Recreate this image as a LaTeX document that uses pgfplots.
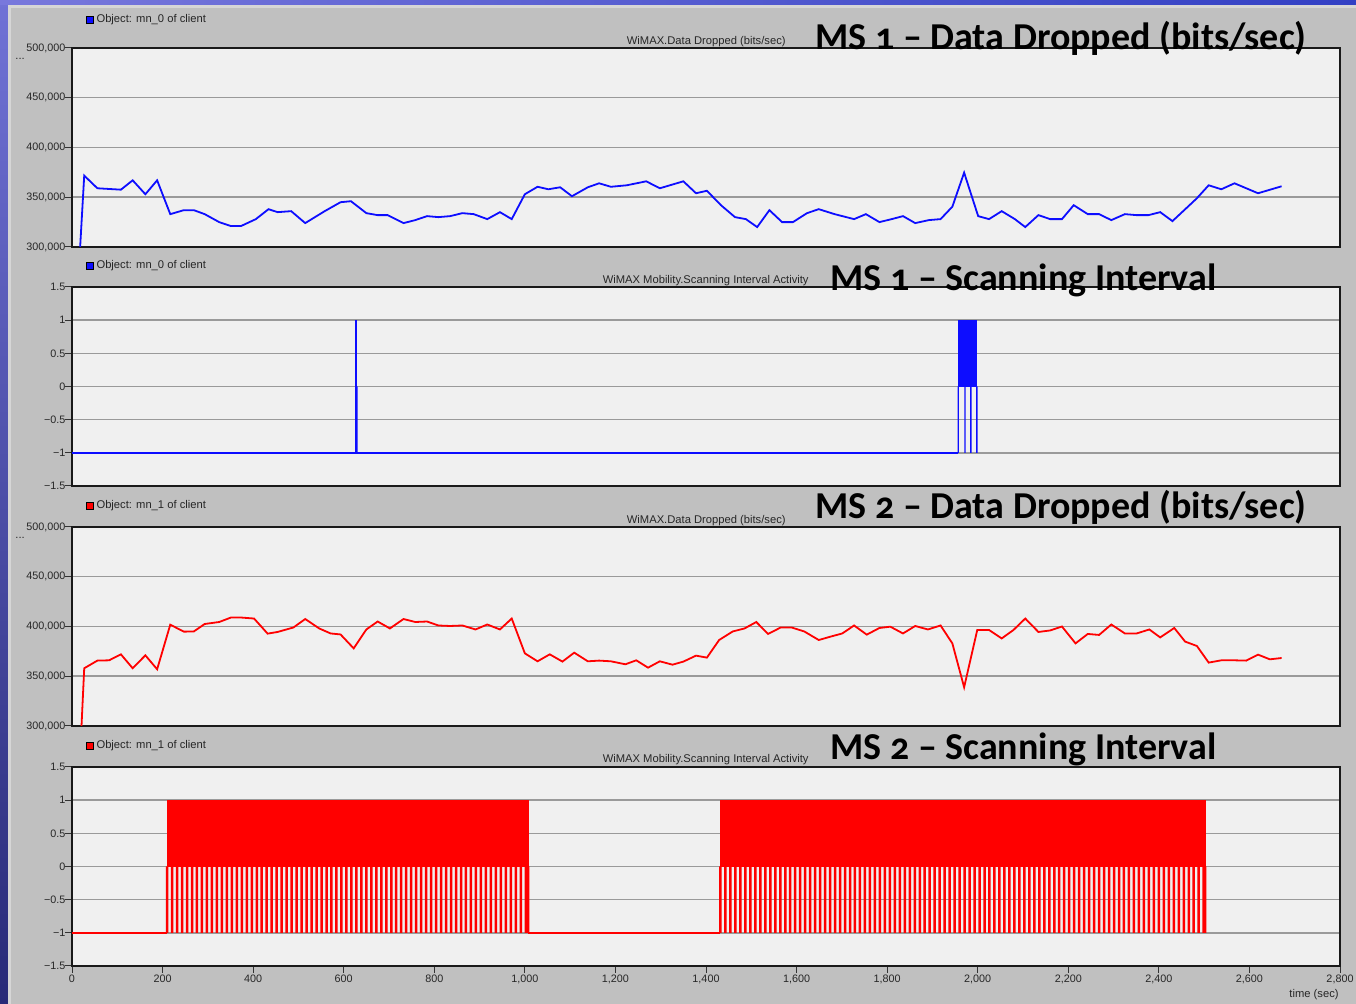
\documentclass[border=0pt]{standalone}
\usepackage{fontspec}
\setmainfont{Liberation Sans}
\newfontfamily\titlefont{Carlito}[Numbers=OldStyle]
\usepackage{pgfplots}
\pgfplotsset{compat=1.18}
\definecolor{bggray}{HTML}{C0C0C0}
\definecolor{plotbg}{HTML}{F0F0F0}
\definecolor{gridgray}{HTML}{9A9A9A}
\definecolor{dblue}{HTML}{0D0DFF}
\definecolor{dred}{HTML}{FF0000}
\definecolor{stripA}{RGB}{112,114,214}
\definecolor{stripB}{RGB}{40,42,120}
\definecolor{stripC}{RGB}{120,120,220}
\definecolor{stripD}{RGB}{50,64,196}
\definecolor{lightline}{RGB}{214,214,214}
\newcommand{\ticksz}{\fontsize{5.4}{6}\selectfont}
\newcommand{\smsz}{\fontsize{5.6}{6.5}\selectfont}
\newcommand{\bigt}{\titlefont\bfseries\fontsize{19}{21}\selectfont}
\pgfplotsset{
 panel/.style={
  scale only axis, width=634pt, height=99.5pt, anchor=south west,
  xmin=0, xmax=2800,
  axis background/.style={fill=plotbg},
  axis line style={draw=black!90, line width=0.55pt},
  ymajorgrids, major grid style={draw=gridgray, line width=0.75pt},
  tick align=outside, ytick pos=left, xtick pos=bottom,
  major tick length=3.5pt,
  tick style={draw=black!80, line width=0.5pt},
  tick label style={font=\ticksz, text=black!85, inner sep=0pt},
  yticklabel style={xshift=0.4pt},
  xticklabel style={yshift=-0.8pt},
  scaled ticks=false,
  legend cell align=left,
  legend style={draw=none, fill=none, inner sep=0pt, anchor=west,
    font=\smsz, text=black!85, nodes={inner sep=1.3pt}},
 },
 datapanel/.style={
  ymin=300000, ymax=500000,
  ytick={300000,350000,400000,450000,500000},
  yticklabels={{300,000},{350,000},{400,000},{450,000},{500,000}},
 },
 scanpanel/.style={
  ymin=-1.5, ymax=1.5,
  ytick={-1.5,-1,-0.5,0,0.5,1,1.5},
  yticklabels={−1.5,−1,−0.5,0,0.5,1,1.5},
 },
 bluesq/.style={legend image code/.code={\filldraw[fill=dblue,draw=black,line width=0.3pt] (0pt,-1.7pt) rectangle (3.5pt,1.8pt);}},
 redsq/.style={legend image code/.code={\filldraw[fill=dred,draw=black,line width=0.3pt] (0pt,-1.7pt) rectangle (3.5pt,1.8pt);}},
}
\begin{document}
\begin{tikzpicture}
\useasboundingbox (0,0) rectangle (678pt,502pt);
\fill[bggray] (0,0) rectangle (678pt,502pt);
\shade[top color=stripA, bottom color=stripB] (0,0) rectangle (4pt,502pt);
\shade[left color=stripC, right color=stripD] (0,499.5pt) rectangle (678pt,502pt);
\fill[lightline] (4pt,0) rectangle (5.6pt,499.5pt);
\fill[lightline] (4pt,498pt) rectangle (678pt,499.5pt);

% ---------- Panel 1: MS1 data dropped
\begin{axis}[panel, datapanel, bluesq, at={(36pt,378.5pt)}, xtick=\empty,
  legend style={at={(axis description cs:0.011,1.143)}}]
\addplot[dblue, line width=0.9pt] coordinates {
(18,300000)(27,371700)(56,359000)(108,357600)(134,367000)(162,353000)(188,367000)
(217,333000)(247,337000)(269,337000)(293,333000)(325,325000)(351,321000)(373,321000)
(406,328000)(434,338000)(454,335000)(484,336000)(515,324000)(558,336000)(593,345000)
(616,346000)(650,334000)(675,332000)(697,332000)(732,324000)(758,327000)(784,331000)
(809,330000)(835,331000)(862,334000)(887,333000)(917,328000)(945,335000)(971,328000)
(1000,353000)(1028,360500)(1052,358000)(1078,360000)(1104,351000)(1139,360000)
(1164,364000)(1190,360500)(1225,362000)(1268,366000)(1298,359000)(1350,366000)
(1378,354000)(1402,356500)(1433,342000)(1464,330000)(1488,328000)(1513,320000)
(1540,337000)(1568,325000)(1592,325000)(1623,334000)(1649,338000)(1684,333000)
(1727,328000)(1753,333000)(1783,325000)(1810,328000)(1835,331000)(1862,324000)
(1892,327000)(1918,328000)(1944,340500)(1970,374700)(2001,331000)(2025,328000)
(2053,336000)(2082,328000)(2105,320000)(2134,332000)(2160,328000)(2186,328000)
(2212,342000)(2243,333000)(2268,333000)(2295,327000)(2325,333000)(2351,332000)
(2377,332000)(2403,335000)(2430,326000)(2463,340000)(2484,349000)(2510,362000)
(2538,358000)(2567,364000)(2593,359000)(2619,354000)(2671,361000)};
\addlegendentry{Object: mn\_0 of client}
\end{axis}

% ---------- Panel 2: MS1 scanning interval
\begin{axis}[panel, scanpanel, bluesq, at={(36pt,259pt)}, xtick=\empty,
  legend style={at={(axis description cs:0.011,1.106)}}]
\addplot[dblue, line width=0.8pt] coordinates {(0,-1)(627,-1)(627,1)(627,-1)(1957,-1)};
\addlegendentry{Object: mn\_0 of client}
\addplot[ybar, bar width=0.7pt, bar shift=0pt, fill=dblue, draw=none] coordinates {
(629,-1)(1957,-1)(1972,-1)(1985,-1)(1998,-1)};
\addplot[fill=dblue, draw=dblue, line width=0.5pt] coordinates {(1957,0)(1957,1)(1998,1)(1998,0)} -- cycle;
\end{axis}

% ---------- Panel 3: MS2 data dropped
\begin{axis}[panel, datapanel, redsq, at={(36pt,139pt)}, xtick=\empty,
  legend style={at={(axis description cs:0.011,1.106)}}]
\addplot[dred, line width=0.9pt] coordinates {
(21,300000)(27,358000)(56,365700)(82,366000)(108,372000)(134,358000)(162,371000)
(188,357000)(217,401800)(247,394800)(269,395000)(293,402500)(325,404500)(351,409000)
(373,409000)(402,408000)(432,392800)(454,394500)(489,399000)(515,407500)(546,398000)
(571,393000)(593,392000)(622,378000)(650,397000)(675,405000)(702,398000)(732,407500)
(758,404500)(784,405000)(809,401000)(835,400500)(862,401000)(891,397000)(917,402000)
(945,397000)(971,408000)(1000,373000)(1028,365000)(1055,372000)(1083,364700)
(1109,373700)(1139,365000)(1164,365700)(1190,365000)(1222,362000)(1246,366000)
(1272,358600)(1298,365000)(1326,361600)(1350,364700)(1378,370700)(1402,368700)
(1429,386400)(1459,395000)(1485,398000)(1511,404500)(1537,392500)(1565,399000)
(1589,399000)(1617,395000)(1649,386400)(1675,389800)(1701,393000)(1727,401000)
(1755,391800)(1783,398500)(1807,399800)(1835,393000)(1862,400500)(1890,397000)
(1918,401000)(1944,383000)(1970,338900)(1999,396500)(2025,396500)(2053,388000)
(2079,396500)(2105,408000)(2134,394500)(2160,396000)(2186,400000)(2216,383000)
(2243,392500)(2268,391500)(2295,402000)(2325,393000)(2351,393000)(2379,397000)
(2403,389000)(2434,398500)(2458,384800)(2484,380400)(2510,363700)(2538,366000)
(2567,366000)(2593,365700)(2619,371700)(2645,367000)(2671,368300)};
\addlegendentry{Object: mn\_1 of client}
\end{axis}

% ---------- Panel 4: MS2 scanning interval
\begin{axis}[panel, scanpanel, redsq, at={(36pt,19pt)},
  xtick={0,200,400,600,800,1000,1200,1400,1600,1800,2000,2200,2400,2600,2800},
  xticklabels={0,200,400,600,800,{1,000},{1,200},{1,400},{1,600},{1,800},{2,000},{2,200},{2,400},{2,600},{2,800}},
  legend style={at={(axis description cs:0.011,1.106)}}]
\addplot[dred, line width=0.7pt] coordinates {(0,-1)(210,-1)};
\addlegendentry{Object: mn\_1 of client}
\addplot[dred, line width=0.7pt] coordinates {(1007,-1)(1432,-1)};
\addplot[fill=dred, draw=dred, line width=0.5pt] coordinates {(210,0)(210,1)(1007,1)(1007,0)} -- cycle;
\addplot[fill=dred, draw=dred, line width=0.5pt] coordinates {(1432,0)(1432,1)(2502,1)(2502,0)} -- cycle;
\addplot[ybar, bar width=1.25pt, bar shift=0pt, fill=dred, draw=none] coordinates {
(210,-1)(221,-1)(232,-1)(243,-1)(254,-1)(265,-1)(276,-1)(287,-1)(298,-1)(309,-1)
(320,-1)(331,-1)(342,-1)(353,-1)(364,-1)(375,-1)(386,-1)(397,-1)(408,-1)(419,-1)
(430,-1)(441,-1)(452,-1)(463,-1)(474,-1)(485,-1)(496,-1)(507,-1)(518,-1)(529,-1)
(540,-1)(551,-1)(562,-1)(573,-1)(584,-1)(595,-1)(606,-1)(617,-1)(628,-1)(639,-1)
(650,-1)(661,-1)(672,-1)(683,-1)(694,-1)(705,-1)(716,-1)(727,-1)(738,-1)(749,-1)
(760,-1)(771,-1)(782,-1)(793,-1)(804,-1)(815,-1)(826,-1)(837,-1)(848,-1)(859,-1)
(870,-1)(881,-1)(892,-1)(903,-1)(914,-1)(925,-1)(936,-1)(947,-1)(958,-1)(969,-1)
(980,-1)(991,-1)(1002,-1)(1007,-1)
(1432,-1)(1443,-1)(1454,-1)(1465,-1)(1476,-1)(1487,-1)(1498,-1)(1509,-1)(1520,-1)(1531,-1)
(1542,-1)(1553,-1)(1564,-1)(1575,-1)(1586,-1)(1597,-1)(1608,-1)(1619,-1)(1630,-1)(1641,-1)
(1652,-1)(1663,-1)(1674,-1)(1685,-1)(1696,-1)(1707,-1)(1718,-1)(1729,-1)(1740,-1)(1751,-1)
(1762,-1)(1773,-1)(1784,-1)(1795,-1)(1806,-1)(1817,-1)(1828,-1)(1839,-1)(1850,-1)(1861,-1)
(1872,-1)(1883,-1)(1894,-1)(1905,-1)(1916,-1)(1927,-1)(1938,-1)(1949,-1)(1960,-1)(1971,-1)
(1982,-1)(1993,-1)(2004,-1)(2015,-1)(2026,-1)(2037,-1)(2048,-1)(2059,-1)(2070,-1)(2081,-1)
(2092,-1)(2103,-1)(2114,-1)(2125,-1)(2136,-1)(2147,-1)(2158,-1)(2169,-1)(2180,-1)(2191,-1)
(2202,-1)(2213,-1)(2224,-1)(2235,-1)(2246,-1)(2257,-1)(2268,-1)(2279,-1)(2290,-1)(2301,-1)
(2312,-1)(2323,-1)(2334,-1)(2345,-1)(2356,-1)(2367,-1)(2378,-1)(2389,-1)(2400,-1)(2411,-1)
(2422,-1)(2433,-1)(2444,-1)(2455,-1)(2466,-1)(2477,-1)(2488,-1)(2499,-1)(2502,-1)};
\end{axis}

% ---------- small titles and notes
\node[anchor=base east, font=\smsz, text=black!85, inner sep=0] at (393pt,479.5pt) {WiMAX.Data Dropped (bits/sec)};
\node[anchor=base east, font=\smsz, text=black!85, inner sep=0] at (404.5pt,360pt) {WiMAX Mobility.Scanning Interval Activity};
\node[anchor=base east, font=\smsz, text=black!85, inner sep=0] at (393pt,240pt) {WiMAX.Data Dropped (bits/sec)};
\node[anchor=base east, font=\smsz, text=black!85, inner sep=0] at (404.5pt,120.5pt) {WiMAX Mobility.Scanning Interval Activity};
\node[anchor=base west, font=\smsz, text=black!85, inner sep=0] at (7.5pt,472pt) {...};
\node[anchor=base west, font=\smsz, text=black!85, inner sep=0] at (7.5pt,232.5pt) {...};
\node[anchor=base east, font=\smsz, text=black!85, inner sep=0] at (669.5pt,3pt) {time (sec)};

% ---------- big slide titles
\node[anchor=base west, font=\bigt, inner sep=0] at (407.5pt,477pt) {MS 1 – Data Dropped (bits/sec)};
\node[anchor=base west, font=\bigt, inner sep=0] at (415pt,356.5pt) {MS 1 – Scanning Interval};
\node[anchor=base west, font=\bigt, inner sep=0] at (407.5pt,242.5pt) {MS 2 – Data Dropped (bits/sec)};
\node[anchor=base west, font=\bigt, inner sep=0] at (415pt,122pt) {MS 2 – Scanning Interval};
\end{tikzpicture}
\end{document}
